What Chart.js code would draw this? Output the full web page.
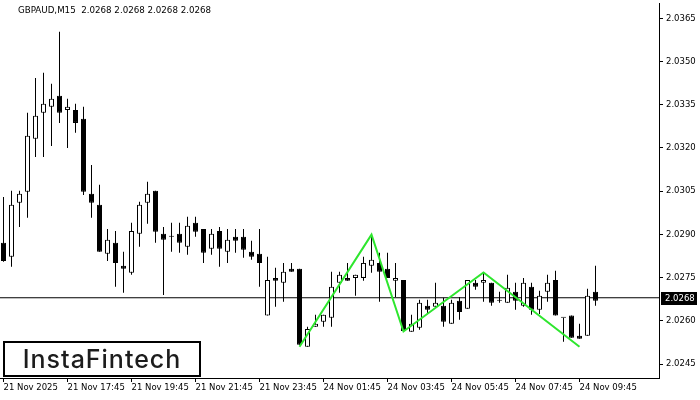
<!DOCTYPE html>
<html>
<head>
<meta charset="utf-8">
<title>GBPAUD M15</title>
<script src="https://cdn.jsdelivr.net/npm/chart.js@4.4.1/dist/chart.umd.min.js"></script>
<style>
  html, body { margin: 0; padding: 0; background: #fff; }
  canvas { display: block; }
</style>
</head>
<body>
<canvas id="myChart" width="700" height="400"></canvas>
<script>
'use strict';

// GBPAUD M15 candles, 21 Nov 15:45 .. 24 Nov 10:15 (index 0..74)

let opens = [
  2.02871, 2.02822, 2.03010, 2.03048, 2.03232, 2.03322, 2.03343, 2.03381, 2.03332, 2.03332,
  2.03301, 2.03041, 2.03003, 2.02833, 2.02871, 2.02791, 2.02767, 2.02902, 2.03010, 2.03051,
  2.02902, 2.02892, 2.02902, 2.02857, 2.02940, 2.02919, 2.02850, 2.02912, 2.02840, 2.02892,
  2.02892, 2.02840, 2.02833, 2.02618, 2.02749, 2.02732, 2.02781, 2.02781, 2.02510, 2.02579,
  2.02597, 2.02611, 2.02732, 2.02749, 2.02749, 2.02749, 2.02791, 2.02801, 2.02781, 2.02739,
  2.02742, 2.02562, 2.02576, 2.02652, 2.02649, 2.02652, 2.02590, 2.02670, 2.02642, 2.02732,
  2.02732, 2.02732, 2.02670, 2.02663, 2.02701, 2.02652, 2.02718, 2.02638, 2.02701, 2.02742,
  2.02611, 2.02618, 2.02548, 2.02548, 2.02701
];

let highs = [
  2.03030, 2.03051, 2.03051, 2.03322, 2.03443, 2.03461, 2.03423, 2.03603, 2.03371, 2.03353,
  2.03343, 2.03141, 2.03072, 2.02919, 2.02912, 2.02840, 2.02940, 2.03013, 2.03083, 2.03051,
  2.02926, 2.02940, 2.02940, 2.02961, 2.02961, 2.02919, 2.02919, 2.02926, 2.02919, 2.02919,
  2.02919, 2.02878, 2.02919, 2.02822, 2.02784, 2.02801, 2.02801, 2.02781, 2.02579, 2.02621,
  2.02621, 2.02770, 2.02770, 2.02801, 2.02760, 2.02822, 2.02899, 2.02836, 2.02836, 2.02801,
  2.02742, 2.02621, 2.02673, 2.02673, 2.02732, 2.02680, 2.02673, 2.02683, 2.02742, 2.02742,
  2.02767, 2.02732, 2.02701, 2.02760, 2.02732, 2.02749, 2.02732, 2.02704, 2.02760, 2.02774,
  2.02611, 2.02618, 2.02590, 2.02711, 2.02791
];

let lows = [
  2.02805, 2.02788, 2.02926, 2.02958, 2.03169, 2.03169, 2.03207, 2.03287, 2.03200, 2.03253,
  2.03037, 2.02958, 2.02840, 2.02808, 2.02718, 2.02697, 2.02760, 2.02857, 2.02937, 2.02871,
  2.02690, 2.02840, 2.02836, 2.02829, 2.02892, 2.02801, 2.02829, 2.02788, 2.02801, 2.02836,
  2.02819, 2.02812, 2.02718, 2.02618, 2.02649, 2.02666, 2.02770, 2.02517, 2.02510, 2.02579,
  2.02579, 2.02579, 2.02697, 2.02739, 2.02687, 2.02739, 2.02767, 2.02666, 2.02749, 2.02683,
  2.02565, 2.02562, 2.02569, 2.02624, 2.02649, 2.02579, 2.02590, 2.02604, 2.02642, 2.02708,
  2.02666, 2.02652, 2.02663, 2.02663, 2.02638, 2.02649, 2.02621, 2.02624, 2.02666, 2.02618,
  2.02527, 2.02541, 2.02538, 2.02548, 2.02652
];

let closes = [
  2.02808, 2.03003, 2.03041, 2.03242, 2.03312, 2.03353, 2.03371, 2.03322, 2.03343, 2.03287,
  2.03048, 2.03010, 2.02840, 2.02881, 2.02801, 2.02781, 2.02912, 2.03003, 2.03041, 2.02909,
  2.02881, 2.02892, 2.02871, 2.02930, 2.02909, 2.02836, 2.02902, 2.02850, 2.02881, 2.02878,
  2.02847, 2.02822, 2.02801, 2.02742, 2.02739, 2.02770, 2.02770, 2.02517, 2.02572, 2.02590,
  2.02621, 2.02718, 2.02760, 2.02739, 2.02760, 2.02801, 2.02812, 2.02770, 2.02749, 2.02749,
  2.02565, 2.02590, 2.02663, 2.02638, 2.02663, 2.02597, 2.02663, 2.02631, 2.02742, 2.02718,
  2.02742, 2.02663, 2.02670, 2.02715, 2.02670, 2.02732, 2.02638, 2.02687, 2.02732, 2.02618,
  2.02611, 2.02541, 2.02538, 2.02687, 2.02670
];

// triple bottom pattern (candle index, price)
let patternIdx = [37, 46, 50, 60, 72];
let patternPrice = [2.02510, 2.02899, 2.02563, 2.02768, 2.02510];

// axis ticks
let yTicks = [2.0245, 2.0260, 2.0275, 2.0290, 2.0305, 2.0320, 2.0335, 2.0350, 2.0365];
let xTickIdx = [0, 8, 16, 24, 32, 40, 48, 56, 64, 72];
let xTickLabels = ['21 Nov 2025', '21 Nov 17:45', '21 Nov 19:45', '21 Nov 21:45', '21 Nov 23:45',
  '24 Nov 01:45', '24 Nov 03:45', '24 Nov 05:45', '24 Nov 07:45', '24 Nov 09:45'];

let bidPrice = 2.0268;
let titleText = 'GBPAUD,M15  2.0268 2.0268 2.0268 2.0268';

// visible window
let xMin = -0.4375;
let xMax = 81.9375;
let yMin = 2.024015;
let yMax = 2.037031;

let axisFont = '"DejaVu Sans", Verdana, sans-serif';

let wickData = [];
let bodyData = [];
let bodyColors = [];
for (let i = 0; i < opens.length; i++) {
  wickData.push({x: i, y: [lows[i], highs[i]]});
  bodyData.push({x: i, y: [opens[i], closes[i]]});
  bodyColors.push(closes[i] >= opens[i] ? '#ffffff' : '#000000');
}

let patternData = [];
for (let i = 0; i < patternIdx.length; i++) {
  patternData.push({x: patternIdx[i], y: patternPrice[i]});
}

// title, price label and logo
let extrasPlugin = {
  id: 'extras',
  afterDraw(chart) {
    let ctx = chart.ctx;
    let yScale = chart.scales.y;
    ctx.save();

    ctx.fillStyle = '#000';
    ctx.font = '8.7px ' + axisFont;
    ctx.textBaseline = 'middle';
    ctx.textAlign = 'left';
    ctx.fillText(titleText, 18, 11);

    ctx.font = '8.5px ' + axisFont;
    let py = Math.round(yScale.getPixelForValue(bidPrice));
    ctx.fillRect(661, py - 6, 36, 13);
    ctx.fillStyle = '#fff';
    ctx.fillText(bidPrice.toFixed(4), 665, py + 0.5);

    ctx.fillStyle = '#fff';
    ctx.fillRect(3, 341, 198, 36);
    ctx.lineWidth = 2;
    ctx.strokeStyle = '#000';
    ctx.strokeRect(4, 342, 196, 34);
    ctx.fillStyle = '#1c1c1c';
    ctx.font = '500 25px Inter, "Noto Sans", sans-serif';
    ctx.letterSpacing = '1px';
    ctx.textAlign = 'center';
    ctx.textBaseline = 'alphabetic';
    ctx.fillText('InstaFintech', 102, 368);

    ctx.restore();
  }
};

const data = {
  datasets: [{
    type: 'line',
    label: 'bid',
    data: [{x: xMin, y: bidPrice}, {x: xMax, y: bidPrice}],
    borderColor: '#000',
    borderWidth: 1,
    pointRadius: 0,
    order: 5
  }, {
    label: 'wicks',
    data: wickData,
    backgroundColor: '#000',
    borderWidth: 0,
    grouped: false,
    barPercentage: 1,
    maxBarThickness: 1,
    order: 4
  }, {
    label: 'bodies',
    data: bodyData,
    backgroundColor: bodyColors,
    borderColor: '#000',
    borderWidth: 1,
    borderSkipped: false,
    grouped: false,
    barPercentage: 1,
    maxBarThickness: 5,
    minBarLength: 1,
    order: 3
  }, {
    type: 'line',
    label: 'pattern',
    data: patternData,
    borderColor: '#2ee62e',
    borderWidth: 2,
    pointRadius: 0,
    tension: 0,
    order: 1
  }]
};

const config = {
  type: 'bar',
  data: data,
  plugins: [extrasPlugin],
  options: {
    responsive: false,
    animation: false,
    devicePixelRatio: 1,
    layout: {padding: {top: 3, left: 0, right: 0, bottom: 0}},
    plugins: {
      legend: {display: false},
      tooltip: {enabled: false},
      title: {display: false}
    },
    scales: {
      x: {
        type: 'linear',
        min: xMin,
        max: xMax,
        offset: false,
        grid: {display: true, drawOnChartArea: false, offset: false, tickLength: 4, color: '#000'},
        border: {display: true, color: '#000', width: 1},
        afterBuildTicks: function(scale) {
          scale.ticks = xTickIdx.map(v => ({value: v}));
        },
        afterFit: function(scale) {
          scale.height = 22;
          scale.paddingLeft = 0;
          scale.paddingRight = 0;
        },
        ticks: {
          autoSkip: false,
          maxRotation: 0,
          minRotation: 0,
          align: 'start',
          padding: 1,
          color: '#000',
          font: {family: axisFont, size: 8.5},
          callback: function(value) {
            let k = xTickIdx.indexOf(value);
            return k >= 0 ? xTickLabels[k] : '';
          }
        }
      },
      y: {
        type: 'linear',
        position: 'right',
        min: yMin,
        max: yMax,
        beginAtZero: false,
        grid: {display: true, drawOnChartArea: false, tickLength: 4, color: '#000'},
        border: {display: true, color: '#000', width: 1},
        afterBuildTicks: function(scale) {
          scale.ticks = yTicks.map(v => ({value: v}));
        },
        afterFit: function(scale) {
          scale.width = 41;
          scale.paddingTop = 0;
          scale.paddingBottom = 0;
        },
        ticks: {
          padding: 3,
          color: '#000',
          font: {family: axisFont, size: 8.5},
          callback: function(value) {
            return value.toFixed(4);
          }
        }
      }
    }
  }
};

const myChart = new Chart(
  document.getElementById('myChart'),
  config
);
</script>
</body>
</html>
